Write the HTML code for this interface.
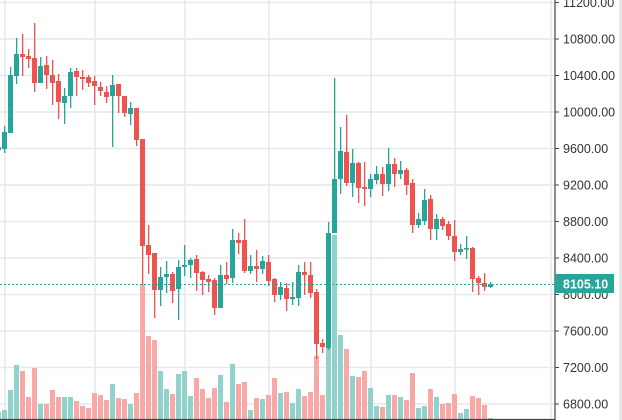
<!DOCTYPE html>
<html><head><meta charset="utf-8"><style>
html,body{margin:0;padding:0;background:#fff;overflow:hidden}
svg{display:block}
text{font-family:"Liberation Sans",sans-serif;font-size:12.5px;fill:#333}
</style></head><body>
<svg id="s" width="622" height="420" viewBox="0 0 622 420" xmlns="http://www.w3.org/2000/svg">
<rect x="0" y="0" width="622" height="420" fill="#fff"/>
<rect x="619" y="0" width="3" height="420" fill="#e8e8e8"/>
<g id="grid" stroke="#e3e9ef" stroke-width="1.5"></g>
<g id="vol"></g>
<g id="cand"></g>
<line x1="0" y1="284.5" x2="555" y2="284.5" stroke="#26a69a" stroke-width="1" stroke-dasharray="2,2"/>
<line x1="555" y1="0" x2="555" y2="420" stroke="#444" stroke-width="1.2"/>
<line x1="0" y1="419.5" x2="555" y2="419.5" stroke="#444" stroke-width="1.2"/>
<g id="ticks" stroke="#444" stroke-width="1"></g>
<text x="563" y="7">11200.00</text>
<text x="563" y="43.5">10800.00</text>
<text x="563" y="80">10400.00</text>
<text x="563" y="116.5">10000.00</text>
<text x="563" y="153">9600.00</text>
<text x="563" y="189.5">9200.00</text>
<text x="563" y="226">8800.00</text>
<text x="563" y="262.5">8400.00</text>
<text x="563" y="299">8000.00</text>
<text x="563" y="335.5">7600.00</text>
<text x="563" y="372">7200.00</text>
<text x="563" y="408.5">6800.00</text>
<rect x="555" y="274" width="59" height="19" fill="#26a69a"/>
<text x="563" y="288.5" style="fill:#fff;font-weight:bold">8105.10</text>
</svg>
<script>
var NS="http://www.w3.org/2000/svg";
function el(p,t,a){var e=document.createElementNS(NS,t);for(var k in a)e.setAttribute(k,a[k]);p.appendChild(e);return e;}
var grid=document.getElementById('grid'),ticks=document.getElementById('ticks');
for(var k=0;k<12;k++){var y=2.5+36.5*k;el(grid,'line',{x1:0,y1:y,x2:555,y2:y});el(ticks,'line',{x1:555,y1:y,x2:559,y2:y});}
[5,95,185,269,371,455,551].forEach(function(x){el(grid,'line',{x1:x,y1:0,x2:x,y2:419});});
// [bodyTop, bodyBottom, wickTop, wickBottom, green?]
var C=[
[132,149,126,153,1],[75,133,67,133,1],[54,76,38,84,1],[54,57,34,76,0],[56,59,49,68,0],[58,83,23,92,0],[66,83,57,83,1],[65,75,56,89,0],[75,83,60,105,0],[81,102,74,119,0],
[96,103,88,124,1],[72,96,68,108,1],[71,77,68,96,0],[77,79,70,90,0],[77,83,75,87,0],[81,86,76,105,0],[87,91,82,96,0],[92,97,86,103,0],[85,96,75,147,1],[84,96,84,113,0],
[96,113,96,117,0],[108,114,102,125,1],[108,140,108,146,0],[139,246,139,285,0],[245,255,225,274,0],[253,290,253,318,0],[277,290,267,306,1],[274,277,261,293,1],[274,291,272,303,0],[267,289,260,320,1],
[265,267,245,276,1],[260,265,258,278,1],[259,273,255,291,0],[272,280,271,295,0],[279,282,275,292,0],[280,308,278,315,0],[275,308,265,308,1],[275,279,262,284,0],[240,278,229,283,1],[240,243,233,254,0],
[240,271,219,273,0],[266,271,255,274,1],[266,269,250,282,0],[261,269,256,274,1],[262,281,255,286,0],[279,295,278,302,0],[287,295,282,300,1],[288,299,283,311,0],[297,299,282,305,1],[272,298,265,306,1],
[272,275,262,295,0],[275,293,262,298,0],[292,344,289,359,0],[343,347,339,353,0],[233,348,222,350,1],[179,233,78,233,1],[151,179,127,194,1],[152,183,115,186,0],[163,183,149,197,1],[163,188,162,203,0],
[187,189,162,206,0],[179,189,174,197,1],[174,180,166,184,1],[174,184,167,196,0],[164,184,148,191,1],[164,174,158,187,0],[170,174,161,179,1],[170,185,168,195,0],[183,225,179,233,0],[219,225,213,228,1],
[200,221,189,225,1],[199,229,195,240,0],[219,229,214,240,1],[219,226,217,230,0],[224,236,221,240,0],[236,252,220,261,0],[249,252,244,255,1],[248,249.5,236,259,1],[248,279,247,292,0],[278,283,276,295,0],
[283,287,273,291,0],[284,287,282,288,1]];
var V=[410,390,365,371,397,368,404,404,390,397,397,397,401,406,408,393,395,400,384,398,399,404,393,285,336,340,371,389,394,374,371,396,378,389,398,388,375,402,364,384,382,410,398,399,395,378,393,392,403,389,396,392,356,395,300,235,335,349,376,377,371,388,406,407,395,395,397,400,373,408,406,389,397,404,403,394,413,409,396,398,405,418];
var vg=document.getElementById('vol'),cg=document.getElementById('cand');
el(vg,'rect',{x:-3,y:412,width:4,height:7,fill:'#92d2cc'});
el(cg,'rect',{x:-3,y:147,width:4,height:3,fill:'#26a69a'});
for(var i=0;i<C.length;i++){
 var c=C[i],x=2+6*i,g=c[4];
 var col=g?'#26a69a':'#ef5350';
 el(vg,'rect',{x:x,y:V[i],width:5,height:419-V[i],fill:g?'#92d2cc':'#f7a9a7'});
 el(cg,'rect',{x:x+2,y:c[2],width:1.3,height:c[3]-c[2],fill:col});
 el(cg,'rect',{x:x,y:c[0],width:5,height:Math.max(1.5,c[1]-c[0]),fill:col});
}
</script>
</body></html>
